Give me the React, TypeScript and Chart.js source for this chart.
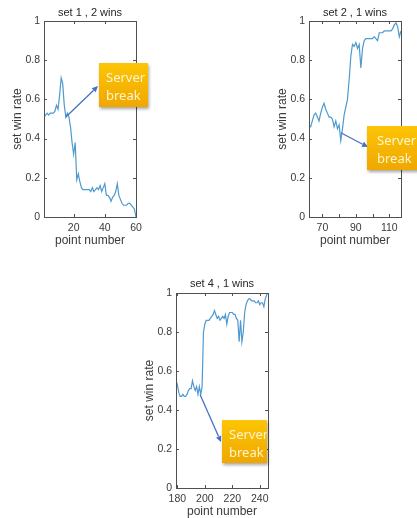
import React, { useEffect, useRef } from 'react';
import { Chart, registerables } from 'chart.js';

Chart.register(...registerables);

// ---------- data ----------
const set1Start = 1;
const set1Rate = [
  0.51, 0.52, 0.53, 0.52, 0.53, 0.53, 0.53, 0.54, 0.57, 0.55,
  0.62, 0.71, 0.68, 0.57, 0.51, 0.53, 0.51, 0.46, 0.38, 0.32,
  0.38, 0.19, 0.22, 0.18, 0.15, 0.14, 0.14, 0.14, 0.14, 0.14,
  0.13, 0.15, 0.13, 0.14, 0.15, 0.14, 0.16, 0.13, 0.15, 0.17,
  0.11, 0.11, 0.10, 0.08, 0.10, 0.11, 0.13, 0.17, 0.11, 0.09,
  0.07, 0.06, 0.06, 0.06, 0.07, 0.07, 0.06, 0.05, 0.04, 0.0,
];

const set2Start = 62;
const set2Rate = [
  0.47, 0.46, 0.49, 0.52, 0.53, 0.51, 0.49, 0.53, 0.56, 0.58,
  0.55, 0.53, 0.51, 0.51, 0.50, 0.46, 0.49, 0.45, 0.47, 0.39,
  0.45, 0.52, 0.56, 0.60, 0.70, 0.82, 0.88, 0.87, 0.89, 0.86,
  0.88, 0.76, 0.86, 0.90, 0.91, 0.91, 0.91, 0.91, 0.91, 0.92,
  0.91, 0.90, 0.94, 0.94, 0.94, 0.95, 0.95, 0.95, 0.95, 0.95,
  0.96, 0.98, 0.99, 0.97, 0.92, 0.95,
];

const set4Start = 179;
const set4Rate = [
  0.55, 0.53, 0.49, 0.47, 0.47, 0.48, 0.47, 0.47, 0.48, 0.50,
  0.51, 0.51, 0.55, 0.52, 0.50, 0.52, 0.48, 0.52, 0.48, 0.52,
  0.80, 0.84, 0.86, 0.86, 0.86, 0.87, 0.88, 0.89, 0.91, 0.89,
  0.87, 0.88, 0.86, 0.87, 0.88, 0.87, 0.89, 0.84, 0.88, 0.90,
  0.90, 0.90, 0.89, 0.89, 0.87, 0.86, 0.75, 0.86, 0.75, 0.80,
  0.90, 0.94, 0.96, 0.97, 0.97, 0.96, 0.96, 0.96, 0.95, 0.95,
  0.96, 0.94, 0.95, 0.95, 0.93, 0.97, 0.99, 1.0,
];

const yTicks = [0, 0.2, 0.4, 0.6, 0.8, 1];
const set1XTicks = [20, 40, 60];
const set1XLabels = [20, 40, 60];
const set2XTicks = [70, 80, 90, 100, 110];
const set2XLabels = [70, 90, 110];
const set4XTicks = [180, 200, 220, 240];
const set4XLabels = [180, 200, 220, 240];

const titles = ['set 1 , 2 wins', 'set 2 , 1 wins', 'set 4 , 1 wins'];
const xAxisTitle = 'point number';
const yAxisTitle = 'set win rate';
const noteText = ['Server', 'break'];

// ---------- style ----------
const FONT = '"Liberation Sans", Arial, sans-serif';
const LINE = '#4e9ad0';
const TEXT = '#3a3a3a';

const frameTicksPlugin = {
  id: 'frameTicks',
  afterDatasetsDraw(chart: any) {
    const { ctx, chartArea, scales } = chart;
    const { left, right, top, bottom } = chartArea;
    const x = scales.x;
    const y = scales.y;
    const len = 3;
    ctx.save();
    ctx.strokeStyle = '#505050';
    ctx.lineWidth = 1;
    ctx.beginPath();
    x.ticks.forEach((t: any) => {
      const px = Math.round(x.getPixelForValue(t.value)) + 0.5;
      ctx.moveTo(px, bottom);
      ctx.lineTo(px, bottom - len);
      ctx.moveTo(px, top);
      ctx.lineTo(px, top + len);
    });
    y.ticks.forEach((t: any) => {
      const py = Math.round(y.getPixelForValue(t.value)) + 0.5;
      ctx.moveTo(left, py);
      ctx.lineTo(left + len, py);
      ctx.moveTo(right, py);
      ctx.lineTo(right - len, py);
    });
    ctx.stroke();
    ctx.strokeRect(
      Math.round(left) + 0.5,
      Math.round(top) + 0.5,
      Math.round(right - left),
      Math.round(bottom - top)
    );
    ctx.restore();
  },
};

// title centred over the plot area (MATLAB style)
const plotTitlePlugin = {
  id: 'plotTitle',
  afterDraw(chart: any, _args: any, opts: any) {
    if (!opts || !opts.text) return;
    const { ctx, chartArea } = chart;
    ctx.save();
    ctx.font = `11px ${FONT}`;
    ctx.fillStyle = '#262626';
    ctx.textAlign = 'center';
    ctx.textBaseline = 'middle';
    ctx.fillText(opts.text, (chartArea.left + chartArea.right) / 2, opts.y);
    ctx.restore();
  },
};

const arrowPlugin = {
  id: 'noteArrow',
  afterDraw(chart: any, _args: any, opts: any) {
    if (!opts || !opts.from) return;
    const { ctx, scales } = chart;
    const x0 = scales.x.getPixelForValue(opts.from[0]);
    const y0 = scales.y.getPixelForValue(opts.from[1]);
    const [x1, y1] = opts.to;
    const ang = Math.atan2(y1 - y0, x1 - x0);
    const head = 6;
    const hw = 2.8;
    ctx.save();
    ctx.strokeStyle = '#4472c4';
    ctx.fillStyle = '#4472c4';
    ctx.lineWidth = 1.3;
    ctx.beginPath();
    ctx.moveTo(x0, y0);
    ctx.lineTo(x1 - Math.cos(ang) * head, y1 - Math.sin(ang) * head);
    ctx.stroke();
    ctx.beginPath();
    ctx.moveTo(x1, y1);
    ctx.lineTo(
      x1 - Math.cos(ang) * head - Math.sin(ang) * hw,
      y1 - Math.sin(ang) * head + Math.cos(ang) * hw
    );
    ctx.lineTo(
      x1 - Math.cos(ang) * head + Math.sin(ang) * hw,
      y1 - Math.sin(ang) * head - Math.cos(ang) * hw
    );
    ctx.closePath();
    ctx.fill();
    ctx.restore();
  },
};

type PanelProps = {
  left: number;
  top: number;
  width: number;
  height: number;
  title: string;
  start: number;
  values: number[];
  xMin: number;
  xMax: number;
  xTicks: number[];
  xLabels: number[];
  titleY: number;
  padRight: number;
  arrowFrom: [number, number];
  arrowTo: [number, number];
};

function Panel(p: PanelProps) {
  const ref = useRef<HTMLCanvasElement | null>(null);
  useEffect(() => {
    if (!ref.current) return;
    const points = p.values.map((v, i) => ({ x: p.start + i, y: v }));
    const tickFont = { family: FONT, size: 10.5 };
    const labelFont = { family: FONT, size: 12 };
    const chart = new Chart(ref.current, {
      type: 'line',
      data: {
        datasets: [
          {
            data: points,
            borderColor: LINE,
            borderWidth: 1.2,
            pointRadius: 0,
            tension: 0,
            fill: false,
          },
        ],
      },
      options: {
        animation: false,
        responsive: false,
        maintainAspectRatio: false,
        events: [],
        layout: { padding: { left: 0, right: p.padRight, top: 21, bottom: 0 } },
        plugins: {
          legend: { display: false },
          tooltip: { enabled: false },
          title: { display: false },
          plotTitle: { text: p.title, y: p.titleY },
          noteArrow: { from: p.arrowFrom, to: p.arrowTo },
        } as any,
        scales: {
          x: {
            type: 'linear',
            min: p.xMin,
            max: p.xMax,
            grid: { display: false, drawTicks: false },
            border: { display: false },
            afterBuildTicks: (s: any) => {
              s.ticks = p.xTicks.map((v) => ({ value: v }));
            },
            afterFit: (s: any) => {
              s.height = 33;
            },
            ticks: {
              autoSkip: false,
              maxRotation: 0,
              padding: 5,
              color: TEXT,
              font: tickFont,
              callback: (v: any) => (p.xLabels.includes(Number(v)) ? String(v) : ''),
            },
            title: {
              display: true,
              text: xAxisTitle,
              color: TEXT,
              font: labelFont,
              padding: { top: 0, bottom: 2.1 },
            },
          },
          y: {
            type: 'linear',
            min: 0,
            max: 1,
            grid: { display: false, drawTicks: false },
            border: { display: false },
            afterBuildTicks: (s: any) => {
              s.ticks = yTicks.map((v) => ({ value: v }));
            },
            afterFit: (s: any) => {
              s.width = 44;
            },
            ticks: {
              padding: 4,
              color: TEXT,
              font: tickFont,
              callback: (v: any) => {
                const n = Number(v);
                return n === 0 || n === 1 ? String(n) : n.toFixed(1);
              },
            },
            title: {
              display: true,
              text: yAxisTitle,
              color: TEXT,
              font: labelFont,
              padding: { top: 10.8, bottom: 0 },
            },
          },
        },
      },
      plugins: [frameTicksPlugin, plotTitlePlugin, arrowPlugin],
    });
    return () => chart.destroy();
  }, []);
  return (
    <canvas
      ref={ref}
      width={p.width}
      height={p.height}
      style={{ position: 'absolute', left: p.left, top: p.top, width: p.width, height: p.height }}
    />
  );
}

function Note({ left, top, width, height, padLeft }: any) {
  return (
    <div
      style={{
        position: 'absolute',
        left,
        top,
        width,
        height,
        boxSizing: 'border-box',
        paddingLeft: padLeft,
        paddingTop: 5,
        background: 'linear-gradient(#fdc506, #efa700)',
        boxShadow: '1px 2px 3px rgba(0,0,0,0.35)',
        color: '#fff4cf',
        fontFamily: '"Noto Sans", "Open Sans", sans-serif',
        fontSize: 13,
        lineHeight: '18px',
        whiteSpace: 'nowrap',
        overflow: 'hidden',
      }}
    >
      {noteText[0]}
      <br />
      {noteText[1]}
    </div>
  );
}

export default function App() {
  return (
    <div
      style={{
        position: 'fixed',
        left: 0,
        top: 0,
        width: 417,
        height: 518,
        overflow: 'hidden',
        background: '#ffffff',
      }}
    >
      <Panel
        left={0}
        top={0}
        width={150}
        height={250}
        title={titles[0]}
        start={set1Start}
        values={set1Rate}
        xMin={1}
        xMax={60}
        xTicks={set1XTicks}
        xLabels={set1XLabels}
        titleY={12.5}
        padRight={14}
        arrowFrom={[15, 0.51]}
        arrowTo={[98, 86]}
      />
      <Panel
        left={265}
        top={0}
        width={152}
        height={250}
        title={titles[1]}
        start={set2Start}
        values={set2Rate}
        xMin={62}
        xMax={117}
        xTicks={set2XTicks}
        xLabels={set2XLabels}
        titleY={12.5}
        padRight={16}
        arrowFrom={[81, 0.43]}
        arrowTo={[103, 147]}
      />
      <Panel
        left={132}
        top={272}
        width={150}
        height={249}
        title={titles[2]}
        start={set4Start}
        values={set4Rate}
        xMin={179}
        xMax={246}
        xTicks={set4XTicks}
        xLabels={set4XLabels}
        titleY={11.5}
        padRight={14}
        arrowFrom={[196.5, 0.48]}
        arrowTo={[89, 170]}
      />
      <Note left={99} top={63} width={49} height={44} padLeft={7} />
      <Note left={367} top={126} width={60} height={44} padLeft={10} />
      <Note left={222} top={420} width={45} height={43} padLeft={7} />
    </div>
  );
}
